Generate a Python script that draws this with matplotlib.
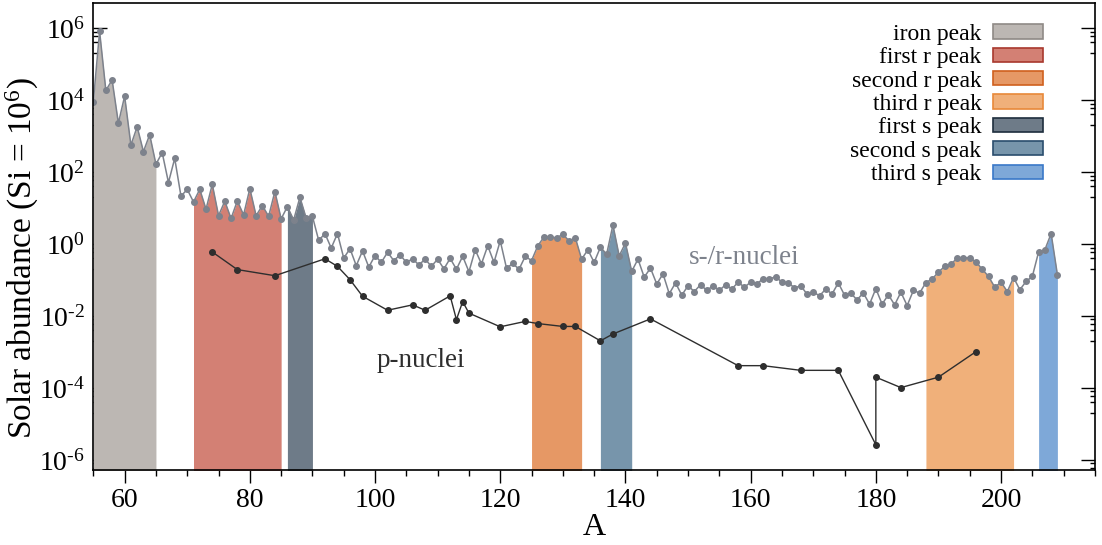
import numpy as np
import matplotlib
matplotlib.use("Agg")
from matplotlib import pyplot as plt
from matplotlib.patches import Patch
from matplotlib.ticker import FixedLocator, NullFormatter

plt.rcParams['font.family'] = ['Liberation Serif', 'DejaVu Serif']
plt.rcParams['mathtext.fontset'] = 'custom'
plt.rcParams['mathtext.rm'] = 'Liberation Serif'
plt.rcParams['mathtext.it'] = 'Liberation Serif:italic'

# s-/r-nuclei: mass number A = 55..209, log10 of solar abundance (Si = 1e6)
mass_first = 55
log_sr = [3.96, 5.91, 4.27, 4.56, 3.36, 4.11, 2.75, 3.26, 2.57, 3.04,   # 55-64
          2.22, 2.54, 1.71, 2.38, 1.33, 1.52, 1.17, 1.52, 0.97, 1.66,   # 65-74
          0.79, 1.19, 0.71, 1.20, 0.81, 1.54, 0.79, 1.07, 0.77, 1.46,   # 75-84
          0.70, 1.04, 0.67, 1.30, 0.72, 0.77, 0.10, 0.29, -0.11, 0.29,  # 85-94
          -0.39, -0.13, -0.60, -0.19, -0.64, -0.32, -0.51, -0.23, -0.46, -0.30,  # 95-104
          -0.51, -0.41, -0.58, -0.42, -0.62, -0.42, -0.69, -0.40, -0.70, -0.34,  # 105-114
          -0.77, -0.16, -0.55, -0.05, -0.51, 0.09, -0.67, -0.54, -0.70, -0.34,   # 115-124
          -0.46, -0.05, 0.20, 0.20, 0.17, 0.27, 0.09, 0.17, -0.42, -0.16,        # 125-134
          -0.51, -0.09, -0.28, 0.53, -0.33, 0.03, -0.76, -0.42, -0.92, -0.67,    # 135-144
          -1.11, -0.83, -1.38, -1.08, -1.42, -1.16, -1.32, -1.13, -1.29, -1.16,  # 145-154
          -1.29, -1.13, -1.25, -1.06, -1.20, -1.06, -1.11, -0.96, -0.97, -0.91,  # 155-164
          -1.06, -1.07, -1.22, -1.16, -1.39, -1.33, -1.44, -1.25, -1.39, -1.08,  # 165-174
          -1.42, -1.37, -1.55, -1.36, -1.67, -1.24, -1.67, -1.41, -1.69, -1.34,  # 175-184
          -1.71, -1.29, -1.36, -1.07, -0.97, -0.78, -0.62, -0.56, -0.39, -0.38,  # 185-194
          -0.38, -0.50, -0.70, -0.90, -1.20, -1.06, -1.32, -0.93, -1.27, -1.04,  # 195-204
          -0.90, -0.22, -0.16, 0.29, -0.85]                                       # 205-209

# p-nuclei
p_mass = [74, 78, 84, 92, 94, 96, 98, 102, 106, 108, 112, 113, 114, 115, 120,
          124, 126, 130, 132, 136, 138, 144, 158, 162, 168, 174, 180, 180, 184, 190, 196]
log_p = [-0.22, -0.71, -0.88, -0.41, -0.62, -0.99, -1.45, -1.84, -1.69, -1.84, -1.44,
         -2.10, -1.60, -1.92, -2.30, -2.15, -2.21, -2.29, -2.29, -2.69, -2.50, -2.08,
         -3.38, -3.38, -3.51, -3.51, -5.58, -3.70, -3.99, -3.70, -2.99]

peak_names = ['iron peak', 'first r peak', 'second r peak', 'third r peak',
              'first s peak', 'second s peak', 'third s peak']
peak_start = [55, 71, 125, 188, 86, 136, 206]
peak_end = [65, 85, 133, 202, 90, 141, 209]
peak_face = ['#bcb7b3', '#d38074', '#e69865', '#f0b07a', '#6e7b88', '#7795ab', '#7ea8d8']
peak_edge = ['#8f8a86', '#a8382e', '#d0601e', '#e8893a', '#1e2d3d', '#2a4d6d', '#3a78c8']

A = np.arange(mass_first, mass_first + len(log_sr))
sr = 10.0 ** np.array(log_sr)
p = 10.0 ** np.array(log_p)

fig = plt.figure(figsize=(11.02, 5.45), dpi=100)
ax = fig.add_axes([0.0847, 0.1376, 0.9089, 0.8563])

ybot = 10 ** -6.28
ytop = 10 ** 6.69

for a0, a1, fc in zip(peak_start, peak_end, peak_face):
    m = (A >= a0) & (A <= a1)
    ax.fill_between(A[m], sr[m], ybot / 10, color=fc, lw=0, zorder=3)

gray = '#7d828c'
ax.plot(A, sr, '-', color=gray, lw=1.1, marker='o', ms=4, zorder=5)
ax.plot(p_mass, p, '-', color='#2e2e2e', lw=1.0, marker='o', ms=4, zorder=5)

ax.text(159, 10 ** -0.38, 's-/r-nuclei', color=gray, fontsize=19.5, ha='center', va='center')
ax.text(107.3, 10 ** -3.25, 'p-nuclei', color='#2e2e2e', fontsize=19.5, ha='center', va='center')

ax.set_yscale('log')
ax.set_xlim(55, 215)
ax.set_ylim(ybot, ytop)

major = [10.0 ** k for k in range(-6, 7, 2)]
ax.yaxis.set_major_locator(FixedLocator(major))
ax.set_yticklabels([r'$10^{%d}$' % k if k >= 0 else r'$10^{\text{-}%d}$' % -k
                    for k in range(-6, 7, 2)])
minor = [s * 10.0 ** k for k in range(-7, 7, 2) for s in (2, 4, 6, 8)]
ax.yaxis.set_minor_locator(FixedLocator(minor))
ax.yaxis.set_minor_formatter(NullFormatter())
ax.tick_params(axis='y', which='both', direction='in', left=True, right=True,
               labelsize=20, pad=6)
ax.tick_params(axis='y', which='major', length=10, width=1)
ax.tick_params(axis='y', which='minor', length=3.5, width=1)

ax.set_xticks(range(60, 201, 20))
ax.set_xticks(range(55, 216, 5), minor=True)
ax.tick_params(axis='x', which='both', direction='out', top=False, labelsize=20, pad=4)
ax.tick_params(axis='x', which='major', length=9, width=1)
ax.tick_params(axis='x', which='minor', length=4.5, width=1)

for s in ax.spines.values():
    s.set_zorder(6)
    s.set_linewidth(1.2)

ax.set_xlabel('A', fontsize=23, labelpad=0)
ax.set_ylabel(r'Solar abundance (Si = 10$^{6}$)', fontsize=24)
ax.yaxis.set_label_coords(-0.052, 0.455)

handles = [Patch(facecolor=fc, edgecolor=ec, lw=1.2) for fc, ec in zip(peak_face, peak_edge)]
ax.legend(handles, peak_names, loc='upper right', bbox_to_anchor=(0.948, 0.956),
          frameon=False, fontsize=17, markerfirst=False, labelspacing=0.1,
          handlelength=2.1, handleheight=0.55, handletextpad=0.5, borderpad=0,
          borderaxespad=0)

fig.savefig('out.png', dpi=100)
